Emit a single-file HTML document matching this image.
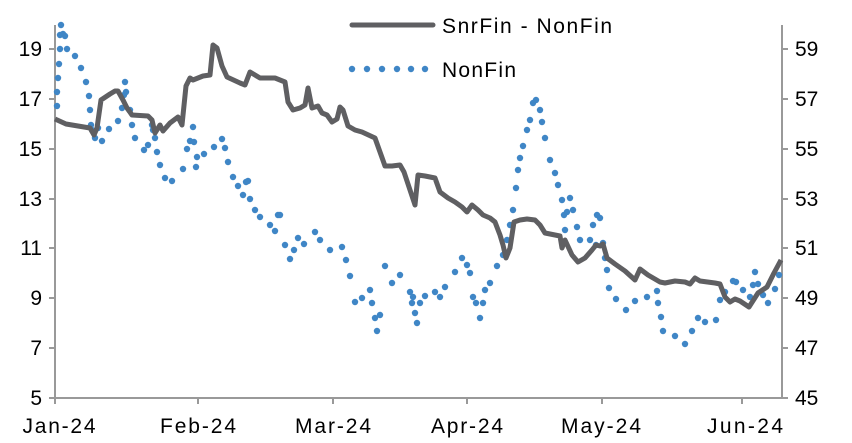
<!DOCTYPE html>
<html><head><meta charset="utf-8"><style>
html,body{margin:0;padding:0;background:#fff;}
svg{display:block;font-family:"Liberation Sans",sans-serif;}
</style></head><body>
<svg id="c" width="852" height="443" viewBox="0 0 852 443" xmlns="http://www.w3.org/2000/svg">
<g stroke="#999" stroke-width="2" fill="none">
<line x1="55" y1="25" x2="55" y2="398"/>
<line x1="782" y1="25" x2="782" y2="398"/>
<line x1="55" y1="398" x2="782" y2="398"/>
<path d="M49 49H55M49 99H55M49 149H55M49 199H55M49 248H55M49 298H55M49 348H55M49 398H55"/>
<path d="M782 49H788M782 99H788M782 149H788M782 199H788M782 248H788M782 298H788M782 348H788M782 398H788"/>
<path d="M55 398V404M198 398V404M333 398V404M467 398V404M602 398V404M742 398V404"/>
</g>
<g font-size="21" fill="#000" text-anchor="end">
<text x="42" y="56">19</text><text x="42" y="106">17</text><text x="42" y="156">15</text><text x="42" y="206">13</text><text x="42" y="255">11</text><text x="42" y="305">9</text><text x="42" y="355">7</text><text x="42" y="405">5</text>
</g>
<g font-size="21" fill="#000" text-anchor="start">
<text x="795" y="56">59</text><text x="795" y="106">57</text><text x="795" y="156">55</text><text x="795" y="206">53</text><text x="795" y="255">51</text><text x="795" y="305">49</text><text x="795" y="355">47</text><text x="795" y="405">45</text>
</g>
<g font-size="21" fill="#000" text-anchor="middle" textLength="73">
<text x="59" y="433" textLength="73">Jan-24</text><text x="198" y="433" textLength="76">Feb-24</text><text x="333" y="433" textLength="76">Mar-24</text><text x="467" y="433" textLength="72">Apr-24</text><text x="601" y="433" textLength="80">May-24</text><text x="745" y="433" textLength="76">Jun-24</text>
</g>
<g id="dots" fill="#3f86c6"></g>
<polyline fill="none" stroke="#5f5f62" stroke-width="5" stroke-linejoin="round" points="55,119 66,124 72,125 90,128 94,135 97,128 101,100 110,94 115,91 118,91 123,100 127,108 132,115 148,116 152,120 155,133 160,125 163,131 170,123 178,117 182,125 186,86 190,78 193,80 203,76 210,75 213,45 217,48 222,66 227,77 240,83 245,85 250,72 255,75 260,78 275,78 280,80 285,82 288,102 293,110 300,108 305,105 308,88 312,108 318,106 322,113 327,115 332,122 337,119 340,107 343,110 348,126 355,130 362,132 375,138 380,152 385,166 392,166 400,165 404,172 410,190 415,205 418,175 425,176 435,178 440,192 448,198 455,202 462,207 467,212 472,205 478,210 483,215 490,218 495,222 500,235 503,245 506,258 510,248 514,222 520,220 527,219 535,220 540,225 545,233 555,235 560,236 562,248 565,240 572,255 578,262 585,258 592,250 596,245 600,246 603,244 607,258 615,264 625,271 635,280 640,269 648,275 660,282 665,283 675,281 685,282 690,284 695,278 700,281 715,283 720,284 725,297 730,302 735,299 740,301 749,307 758,293 767,287 774,273 781,260"/>
<line x1="352" y1="25" x2="433" y2="25" stroke="#5f5f62" stroke-width="5" stroke-linecap="round"/>
<text x="442" y="33" font-size="21" fill="#000" textLength="170">SnrFin - NonFin</text>
<g fill="#3f86c6"><circle cx="352" cy="69" r="3.2"/><circle cx="367" cy="69" r="3.2"/><circle cx="382" cy="69" r="3.2"/><circle cx="397" cy="69" r="3.2"/><circle cx="411" cy="69" r="3.2"/><circle cx="425" cy="69" r="3.2"/></g>
<text x="442" y="77" font-size="21" fill="#000" textLength="74">NonFin</text>
</svg>
<script>
var p=[[57,106],[57,92],[58,78],[59,64],[60,49],[60,35],[61,25],[63,34],[65,36],[67,49],[75,56],[81,68],[86,82],[89,96],[90,110],[91,125],[92,130],[95,138],[98,128],[102,141],[109,129],[118,121],[122,108],[124,95],[125,82],[126,92],[130,110],[132,125],[135,138],[144,150],[148,145],[152,125],[153,130],[155,138],[157,152],[160,165],[165,178],[172,181],[183,169],[187,149],[190,141],[193,127],[194,142],[196,167],[197,157],[204,154],[214,147],[222,139],[225,148],[228,162],[233,177],[238,186],[243,195],[246,182],[248,181],[250,199],[255,210],[260,217],[270,225],[275,231],[278,215],[280,215],[285,245],[290,259],[294,250],[298,238],[304,244],[315,232],[320,240],[330,250],[342,247],[346,260],[350,276],[355,302],[362,298],[370,290],[372,303],[375,318],[377,331],[380,315],[385,266],[392,283],[400,275],[410,292],[412,303],[413,297],[415,313],[417,323],[420,303],[425,296],[435,292],[440,297],[445,287],[455,272],[462,258],[467,265],[470,273],[473,297],[476,303],[480,318],[483,303],[485,290],[490,283],[497,266],[503,255],[507,240],[510,225],[513,210],[516,188],[518,170],[520,158],[523,146],[527,130],[530,120],[533,103],[536,100],[540,110],[542,122],[545,138],[550,160],[555,173],[558,185],[562,200],[564,215],[565,230],[567,212],[570,198],[573,210],[577,227],[580,240],[590,240],[593,225],[596,245],[597,215],[600,218],[603,243],[605,258],[607,270],[609,288],[616,299],[626,310],[635,301],[647,297],[657,291],[658,303],[661,317],[663,331],[675,336],[685,344],[692,331],[698,318],[705,322],[716,320],[720,300],[725,292],[733,281],[736,282],[743,290],[750,297],[753,285],[755,272],[758,284],[763,295],[768,303],[775,289],[779,275]];
var g=document.getElementById('dots'),s='';
p.forEach(function(q){s+='<circle cx="'+q[0]+'" cy="'+q[1]+'" r="3.2"/>';});
g.innerHTML=s;
</script>
</body></html>
